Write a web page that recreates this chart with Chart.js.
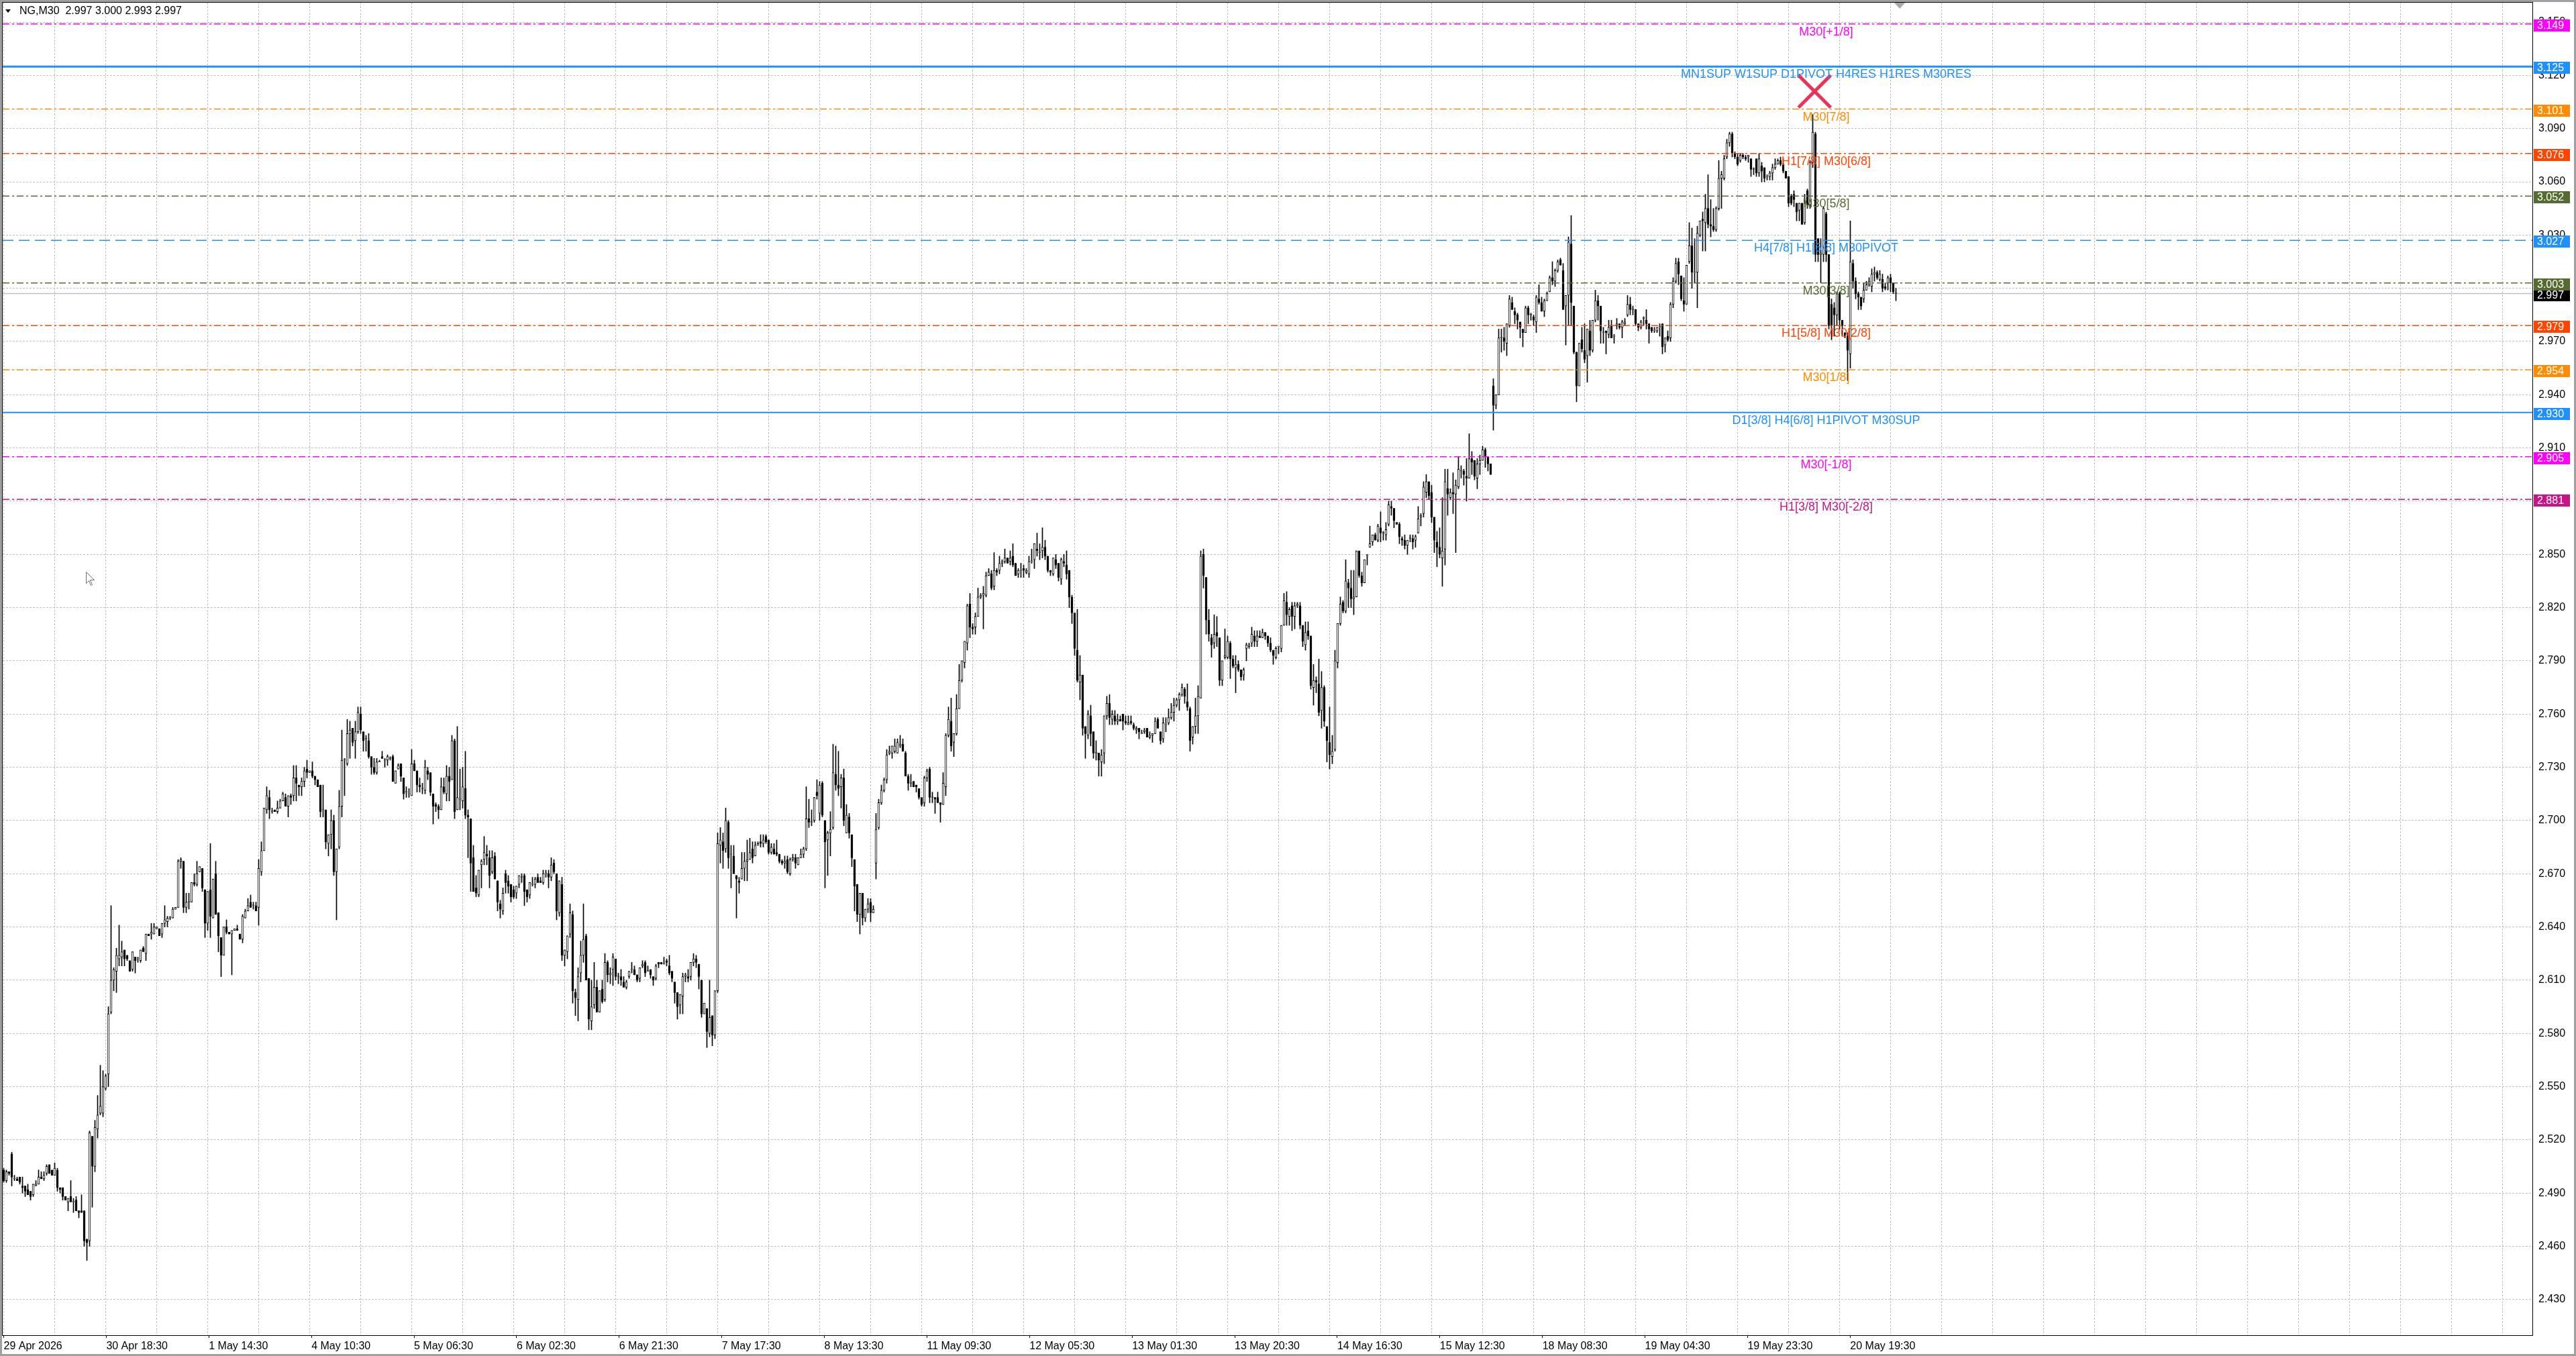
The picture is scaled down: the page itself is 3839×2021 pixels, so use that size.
<!DOCTYPE html>
<html>
<head>
<meta charset="utf-8">
<title>NG,M30</title>
<script src="https://cdn.jsdelivr.net/npm/chart.js@4.4.1/dist/chart.umd.min.js"></script>
<style>
  html, body { margin: 0; padding: 0; background: #fff; }
  #wrap { width: 3839px; height: 2021px; position: relative; }
</style>
</head>
<body>
<div id="wrap"><canvas id="chart"></canvas></div>
<script>
// NG M30 candles, oldest first
const opens = [
  2.503,2.497,2.502,2.512,2.498,2.498,2.499,2.494,2.494,2.492,2.491,2.489,2.494,2.495,2.499,2.498,2.501,2.506,2.503,2.500,
  2.503,2.493,2.493,2.488,2.485,2.488,2.485,2.486,2.480,2.480,2.480,2.464,2.463,2.522,2.505,2.526,2.535,2.535,2.549,2.557,
  2.592,2.610,2.615,2.622,2.623,2.627,2.624,2.621,2.616,2.623,2.622,2.621,2.628,2.625,2.636,2.636,2.636,2.639,2.639,2.636,
  2.642,2.643,2.645,2.645,2.650,2.651,2.677,2.677,2.651,2.654,2.654,2.665,2.664,2.671,2.673,2.661,2.642,2.661,2.645,2.670,
  2.648,2.634,2.624,2.640,2.637,2.636,2.638,2.639,2.636,
  2.633,2.645,2.649,2.654,2.652,2.652,2.651,2.671,2.683,2.706,2.713,2.705,2.706,2.705,2.707,2.711,2.713,2.708,2.714,2.714,
  2.724,2.720,2.719,2.722,2.729,2.727,2.728,2.725,2.723,2.720,2.706,2.706,2.687,2.692,2.700,2.671,2.685,2.708,2.734,2.732,
  2.749,2.752,2.745,2.750,2.760,2.750,2.746,2.745,2.736,2.730,2.727,2.733,2.736,2.734,2.734,2.735,2.736,2.721,2.729,2.732,
  2.724,2.716,2.715,2.714,2.732,2.728,2.720,2.718,2.717,2.728,2.727,2.715,2.709,2.708,2.706,2.719,2.715,2.725,2.723,2.745,
  2.706,2.712,2.711,2.718,2.703,2.701,2.679,2.662,2.658,2.675,
  2.678,2.681,2.679,2.671,2.680,2.666,2.653,2.649,2.670,2.666,2.664,2.661,2.659,2.664,2.668,2.669,2.661,2.658,2.664,2.664,
  2.668,2.666,2.665,2.670,2.670,2.668,2.676,2.670,2.648,2.664,2.624,2.626,2.636,2.647,2.603,2.599,2.614,2.624,2.635,2.611,
  2.587,2.596,2.606,2.592,2.605,2.599,2.620,2.613,2.616,2.622,2.612,2.612,2.609,2.606,2.612,2.616,2.616,2.613,2.611,2.618,
  2.620,2.615,2.616,2.612,2.611,2.620,2.620,2.619,2.621,2.618,2.615,2.609,2.603,2.596,2.601,2.612,2.612,2.612,2.620,2.622,
  2.619,2.610,2.591,2.594,2.580,2.590,2.579,2.604,2.686,2.688,
  2.684,2.699,2.681,2.680,2.669,2.666,2.667,2.673,2.677,2.678,2.684,2.680,2.686,2.688,2.687,2.691,2.689,2.682,2.684,2.682,
  2.681,2.677,2.676,2.678,2.670,2.678,2.679,2.675,2.679,2.681,2.684,2.701,2.699,2.700,2.716,2.704,2.721,2.700,2.689,2.693,
  2.696,2.726,2.720,2.719,2.724,2.693,2.702,2.692,2.678,2.664,2.647,2.659,2.645,2.650,2.654,2.648,2.676,2.696,2.710,2.717,
  2.723,2.738,2.738,2.739,2.738,2.742,2.743,2.738,2.725,2.721,2.722,2.720,2.718,2.713,2.710,2.724,2.729,2.713,2.713,2.713,
  2.710,2.709,2.719,2.748,2.756,2.744,2.749,2.763,2.779,2.789,
  2.800,2.822,2.809,2.809,2.815,2.826,2.827,2.827,2.838,2.839,2.832,2.841,2.841,2.845,2.846,2.848,2.846,2.849,2.845,2.839,
  2.841,2.842,2.840,2.839,2.846,2.847,2.853,2.851,2.852,2.854,2.849,2.841,2.839,2.847,2.845,2.836,2.846,2.844,2.841,2.826,
  2.817,2.796,2.778,2.782,2.753,2.748,2.759,2.750,2.738,2.738,2.733,2.738,2.759,2.766,2.757,2.759,2.756,2.757,2.760,2.756,
  2.754,2.756,2.754,2.751,2.752,2.749,2.750,2.752,2.747,2.748,2.749,2.757,2.750,2.746,2.754,2.755,2.758,2.761,2.765,2.768,
  2.771,2.774,2.767,2.763,2.747,2.753,2.759,2.769,2.850,2.837,
  2.813,2.803,2.800,2.806,2.803,2.779,2.792,2.792,2.800,2.791,2.786,2.788,2.785,2.782,2.797,2.798,2.800,2.804,2.801,2.804,
  2.803,2.806,2.804,2.800,2.796,2.792,2.798,2.797,2.810,2.823,2.815,2.821,2.815,2.821,2.821,2.810,2.799,2.807,2.804,2.775,
  2.779,2.777,2.762,2.775,2.753,2.744,2.736,2.740,2.789,2.811,2.823,2.818,2.834,2.831,2.825,2.826,2.852,2.838,2.834,2.849,
  2.854,2.857,2.861,2.858,2.865,2.862,2.861,2.867,2.877,2.876,2.868,2.867,2.859,2.858,2.855,2.859,2.859,2.858,2.862,2.871,
  2.873,2.885,2.891,2.885,2.871,2.857,2.854,2.848,2.853,2.887,
  2.882,2.885,2.884,2.888,2.897,2.897,2.894,2.893,2.904,2.903,2.893,2.901,2.903,2.909,2.905,2.901,2.945,2.934,2.940,2.972,
  2.972,2.969,2.979,2.992,2.987,2.985,2.981,2.977,2.975,2.989,2.985,2.984,2.981,2.994,2.992,2.987,2.993,2.998,3.006,3.004,
  3.010,3.016,3.010,2.990,2.996,3.025,2.990,2.964,2.945,2.971,2.965,2.962,2.976,2.965,2.982,2.993,2.990,2.975,2.976,2.974,
  2.979,2.973,2.979,2.980,2.978,2.980,2.985,2.991,2.988,2.988,2.980,2.978,2.983,2.982,2.980,2.978,2.976,2.976,2.978,2.980,
  2.968,2.973,2.972,2.991,3.004,3.015,3.007,2.993,2.991,3.015,
  3.024,3.009,3.009,3.030,3.039,3.037,3.045,3.036,3.035,3.033,3.045,3.062,3.062,3.074,3.082,3.087,3.076,3.074,3.072,3.075,
  3.074,3.074,3.073,3.067,3.073,3.065,3.069,3.068,3.063,3.063,3.065,3.068,3.070,3.072,3.070,3.066,3.063,3.052,3.053,3.048,
  3.044,3.048,3.037,3.055,3.047,3.071,3.087,3.028,3.019,3.019,3.042,3.019,2.991,2.989,2.985,2.997,2.982,2.975,2.973,2.963,
  3.014,3.004,2.997,2.995,2.994,2.999,3.002,3.001,3.008,3.009,3.005,3.005,3.001,3.003,3.006,3.003,2.997
];
const highs = [
  2.504,2.503,2.502,2.513,2.500,2.499,2.499,2.499,2.494,2.495,2.491,2.495,2.497,2.503,2.502,2.502,2.506,2.506,2.503,2.507,
  2.504,2.493,2.493,2.488,2.487,2.497,2.487,2.488,2.480,2.489,2.480,2.464,2.525,2.522,2.531,2.545,2.562,2.559,2.557,2.595,
  2.652,2.617,2.628,2.641,2.632,2.627,2.624,2.621,2.626,2.623,2.623,2.627,2.629,2.636,2.636,2.642,2.642,2.640,2.639,2.642,
  2.652,2.646,2.646,2.651,2.651,2.678,2.679,2.677,2.659,2.659,2.665,2.670,2.677,2.674,2.673,2.661,2.660,2.687,2.667,2.677,
  2.648,2.634,2.640,2.644,2.637,2.638,2.639,2.641,2.636,
  2.647,2.650,2.656,2.658,2.654,2.654,2.678,2.688,2.707,2.719,2.717,2.707,2.706,2.711,2.712,2.716,2.715,2.714,2.715,2.731,
  2.731,2.720,2.724,2.730,2.734,2.728,2.733,2.725,2.723,2.720,2.720,2.706,2.692,2.706,2.703,2.684,2.717,2.751,2.735,2.757,
  2.756,2.752,2.756,2.764,2.764,2.750,2.748,2.749,2.736,2.735,2.735,2.734,2.739,2.735,2.737,2.736,2.737,2.728,2.732,2.732,
  2.724,2.719,2.718,2.740,2.734,2.728,2.724,2.721,2.734,2.730,2.727,2.715,2.710,2.709,2.724,2.724,2.731,2.730,2.748,2.746,
  2.753,2.729,2.730,2.739,2.706,2.701,2.686,2.669,2.672,2.678,
  2.691,2.686,2.683,2.683,2.682,2.666,2.655,2.662,2.672,2.669,2.664,2.663,2.663,2.669,2.670,2.670,2.661,2.665,2.668,2.668,
  2.670,2.668,2.672,2.672,2.672,2.679,2.678,2.670,2.666,2.668,2.627,2.635,2.653,2.649,2.605,2.617,2.632,2.653,2.636,2.611,
  2.610,2.620,2.610,2.604,2.610,2.625,2.621,2.617,2.625,2.622,2.614,2.616,2.612,2.610,2.615,2.620,2.618,2.613,2.617,2.621,
  2.621,2.618,2.616,2.612,2.619,2.620,2.620,2.623,2.622,2.624,2.615,2.609,2.603,2.602,2.614,2.614,2.616,2.620,2.625,2.624,
  2.619,2.610,2.597,2.594,2.610,2.590,2.604,2.693,2.696,2.693,
  2.707,2.700,2.686,2.686,2.669,2.668,2.682,2.682,2.689,2.690,2.688,2.688,2.688,2.692,2.692,2.692,2.689,2.687,2.687,2.689,
  2.681,2.678,2.680,2.680,2.679,2.681,2.681,2.679,2.684,2.685,2.719,2.712,2.706,2.713,2.723,2.722,2.722,2.700,2.694,2.705,
  2.743,2.742,2.739,2.726,2.729,2.709,2.704,2.692,2.678,2.664,2.659,2.659,2.650,2.656,2.656,2.652,2.704,2.712,2.720,2.724,
  2.740,2.742,2.742,2.746,2.746,2.748,2.746,2.739,2.726,2.726,2.722,2.720,2.718,2.713,2.725,2.729,2.730,2.716,2.713,2.716,
  2.710,2.727,2.749,2.764,2.769,2.749,2.771,2.788,2.790,2.801,
  2.822,2.828,2.811,2.817,2.831,2.828,2.832,2.840,2.842,2.841,2.851,2.842,2.849,2.847,2.853,2.848,2.852,2.856,2.845,2.842,
  2.845,2.844,2.842,2.849,2.853,2.856,2.862,2.856,2.865,2.858,2.849,2.841,2.848,2.850,2.845,2.848,2.850,2.852,2.841,2.827,
  2.817,2.819,2.793,2.782,2.753,2.762,2.765,2.750,2.745,2.738,2.740,2.759,2.770,2.771,2.762,2.762,2.760,2.759,2.760,2.759,
  2.759,2.759,2.755,2.753,2.752,2.751,2.752,2.752,2.750,2.749,2.758,2.758,2.750,2.758,2.758,2.763,2.766,2.769,2.769,2.772,
  2.777,2.775,2.777,2.764,2.753,2.769,2.776,2.852,2.853,2.837,
  2.819,2.805,2.816,2.815,2.803,2.790,2.808,2.804,2.801,2.793,2.793,2.790,2.785,2.786,2.800,2.800,2.809,2.807,2.807,2.807,
  2.808,2.806,2.804,2.803,2.796,2.798,2.798,2.810,2.828,2.829,2.820,2.823,2.823,2.823,2.823,2.810,2.812,2.812,2.804,2.788,
  2.781,2.791,2.784,2.776,2.753,2.764,2.748,2.796,2.811,2.826,2.824,2.847,2.836,2.841,2.841,2.852,2.852,2.840,2.847,2.850,
  2.866,2.861,2.862,2.867,2.874,2.863,2.868,2.880,2.880,2.876,2.868,2.868,2.860,2.861,2.858,2.861,2.861,2.861,2.877,2.873,
  2.891,2.895,2.891,2.889,2.871,2.863,2.865,2.882,2.898,2.898,
  2.887,2.896,2.892,2.905,2.900,2.898,2.904,2.918,2.908,2.903,2.904,2.906,2.911,2.910,2.905,2.901,2.949,2.940,2.977,2.977,
  2.978,2.980,2.996,2.995,2.989,2.986,2.981,2.977,2.990,2.990,2.986,2.985,2.996,3.002,2.995,2.994,2.998,3.007,3.015,3.011,
  3.016,3.017,3.014,2.996,3.029,3.041,2.990,2.964,2.969,2.978,2.980,2.977,2.982,2.982,2.999,2.996,2.990,2.978,2.976,2.982,
  2.982,2.974,2.983,2.980,2.982,2.983,2.996,2.995,2.990,2.988,2.980,2.982,2.984,2.988,2.980,2.978,2.978,2.978,2.980,2.980,
  2.972,2.976,2.992,3.006,3.017,3.017,3.007,3.006,3.013,3.037,
  3.034,3.028,3.035,3.038,3.043,3.053,3.064,3.050,3.045,3.046,3.072,3.066,3.075,3.084,3.088,3.088,3.077,3.076,3.076,3.076,
  3.075,3.075,3.073,3.068,3.073,3.076,3.071,3.068,3.064,3.066,3.070,3.073,3.073,3.074,3.073,3.066,3.063,3.053,3.055,3.048,
  3.048,3.048,3.053,3.056,3.072,3.098,3.088,3.028,3.028,3.046,3.043,3.019,2.994,2.992,2.998,2.998,2.982,2.975,2.975,3.038,
  3.016,3.006,2.998,2.995,3.003,3.004,3.006,3.011,3.012,3.010,3.010,3.008,3.003,3.007,3.008,3.003,3.000
];
const lows = [
  2.496,2.496,2.500,2.494,2.497,2.497,2.495,2.490,2.488,2.489,2.486,2.488,2.494,2.495,2.498,2.497,2.500,2.501,2.500,2.500,
  2.491,2.490,2.486,2.486,2.480,2.485,2.479,2.480,2.476,2.479,2.460,2.452,2.460,2.482,2.502,2.521,2.534,2.533,2.548,2.550,
  2.591,2.604,2.603,2.618,2.618,2.618,2.621,2.615,2.615,2.614,2.620,2.620,2.626,2.621,2.635,2.633,2.636,2.639,2.635,2.634,
  2.640,2.640,2.644,2.645,2.650,2.651,2.673,2.648,2.648,2.650,2.654,2.663,2.663,2.671,2.660,2.634,2.638,2.634,2.645,2.647,
  2.626,2.612,2.624,2.636,2.636,2.613,2.638,2.638,2.633,
  2.631,2.645,2.649,2.651,2.650,2.649,2.641,2.669,2.683,2.704,2.701,2.704,2.705,2.704,2.707,2.711,2.708,2.702,2.709,2.711,
  2.711,2.714,2.714,2.719,2.724,2.727,2.724,2.720,2.719,2.702,2.702,2.684,2.680,2.684,2.669,2.644,2.684,2.702,2.714,2.731,
  2.735,2.742,2.735,2.749,2.749,2.739,2.739,2.735,2.726,2.726,2.726,2.733,2.735,2.730,2.731,2.734,2.722,2.721,2.729,2.722,
  2.712,2.713,2.713,2.714,2.728,2.716,2.716,2.715,2.715,2.723,2.714,2.698,2.705,2.701,2.706,2.715,2.711,2.711,2.723,2.701,
  2.706,2.706,2.707,2.701,2.679,2.660,2.660,2.657,2.657,2.662,
  2.675,2.675,2.662,2.670,2.667,2.649,2.645,2.647,2.659,2.659,2.654,2.656,2.656,2.662,2.665,2.652,2.654,2.656,2.663,2.662,
  2.665,2.665,2.664,2.668,2.662,2.666,2.670,2.644,2.646,2.621,2.618,2.622,2.634,2.597,2.590,2.587,2.609,2.620,2.610,2.582,
  2.582,2.594,2.592,2.592,2.597,2.598,2.609,2.608,2.607,2.610,2.608,2.607,2.606,2.605,2.611,2.614,2.613,2.609,2.609,2.617,
  2.612,2.615,2.611,2.607,2.610,2.617,2.619,2.619,2.618,2.613,2.609,2.597,2.588,2.591,2.591,2.609,2.609,2.610,2.618,2.617,
  2.605,2.589,2.591,2.572,2.578,2.573,2.577,2.603,2.676,2.673,
  2.682,2.673,2.662,2.670,2.645,2.659,2.667,2.666,2.666,2.678,2.676,2.680,2.686,2.685,2.685,2.687,2.681,2.681,2.681,2.680,
  2.676,2.675,2.673,2.670,2.669,2.677,2.673,2.675,2.679,2.679,2.683,2.696,2.697,2.699,2.712,2.700,2.702,2.662,2.669,2.680,
  2.695,2.717,2.714,2.707,2.697,2.693,2.690,2.674,2.649,2.643,2.636,2.641,2.643,2.648,2.643,2.648,2.667,2.695,2.709,2.716,
  2.721,2.737,2.735,2.738,2.738,2.741,2.739,2.725,2.717,2.719,2.719,2.716,2.712,2.708,2.708,2.722,2.710,2.710,2.704,2.710,
  2.699,2.709,2.714,2.747,2.739,2.736,2.748,2.763,2.778,2.786,
  2.796,2.803,2.805,2.805,2.815,2.825,2.808,2.826,2.838,2.830,2.830,2.838,2.839,2.843,2.845,2.845,2.844,2.843,2.838,2.837,
  2.837,2.837,2.839,2.837,2.845,2.842,2.849,2.847,2.848,2.847,2.840,2.838,2.838,2.842,2.835,2.833,2.843,2.836,2.820,2.811,
  2.793,2.778,2.768,2.748,2.735,2.746,2.742,2.735,2.734,2.725,2.725,2.732,2.757,2.754,2.754,2.754,2.754,2.756,2.751,2.754,
  2.754,2.754,2.751,2.749,2.746,2.749,2.749,2.747,2.746,2.744,2.749,2.752,2.743,2.744,2.750,2.754,2.757,2.756,2.764,2.762,
  2.770,2.766,2.762,2.739,2.743,2.749,2.749,2.769,2.831,2.805,
  2.801,2.792,2.797,2.798,2.776,2.776,2.791,2.791,2.780,2.786,2.772,2.784,2.779,2.779,2.790,2.797,2.798,2.798,2.798,2.803,
  2.803,2.802,2.798,2.795,2.788,2.791,2.794,2.795,2.810,2.810,2.810,2.807,2.808,2.820,2.808,2.798,2.796,2.802,2.774,2.765,
  2.772,2.759,2.752,2.753,2.733,2.729,2.732,2.739,2.786,2.810,2.817,2.817,2.820,2.820,2.816,2.826,2.837,2.832,2.834,2.844,
  2.854,2.855,2.858,2.857,2.857,2.858,2.858,2.866,2.872,2.865,2.867,2.856,2.855,2.853,2.850,2.857,2.853,2.854,2.862,2.866,
  2.871,2.882,2.881,2.868,2.851,2.843,2.848,2.832,2.844,2.872,
  2.881,2.873,2.851,2.887,2.893,2.889,2.880,2.893,2.895,2.892,2.887,2.895,2.903,2.899,2.897,2.895,2.920,2.932,2.940,2.964,
  2.965,2.962,2.978,2.988,2.980,2.977,2.972,2.967,2.975,2.980,2.982,2.979,2.975,2.991,2.987,2.984,2.993,2.998,3.002,3.001,
  3.009,3.013,2.988,2.968,2.979,2.979,2.963,2.936,2.945,2.964,2.958,2.947,2.962,2.964,2.981,2.982,2.969,2.969,2.963,2.972,
  2.972,2.969,2.977,2.977,2.972,2.979,2.984,2.985,2.985,2.979,2.976,2.977,2.979,2.977,2.969,2.975,2.975,2.975,2.973,2.963,
  2.964,2.970,2.970,2.989,3.003,3.002,2.993,2.987,2.991,3.014,
  3.000,3.003,2.989,3.029,3.021,3.021,3.034,3.029,3.032,3.032,3.044,3.045,3.061,3.073,3.080,3.074,3.073,3.069,3.071,3.073,
  3.072,3.071,3.063,3.064,3.063,3.063,3.060,3.060,3.061,3.061,3.061,3.067,3.070,3.069,3.065,3.062,3.046,3.047,3.046,3.038,
  3.038,3.036,3.036,3.045,3.045,3.068,3.015,3.015,3.003,3.015,3.015,2.977,2.971,2.973,2.979,2.977,2.973,2.972,2.948,2.955,
  3.000,2.994,2.988,2.988,2.992,2.999,3.001,2.998,3.004,3.005,3.004,2.998,2.999,2.999,2.998,2.997,2.993
];
const closes = [
  2.497,2.502,2.501,2.499,2.498,2.497,2.496,2.493,2.491,2.489,2.488,2.495,2.495,2.499,2.498,2.500,2.505,2.501,2.500,2.504,
  2.493,2.492,2.488,2.486,2.487,2.485,2.485,2.480,2.479,2.479,2.463,2.462,2.524,2.505,2.527,2.534,2.539,2.550,2.556,2.591,
  2.610,2.616,2.624,2.624,2.626,2.622,2.622,2.615,2.626,2.621,2.622,2.627,2.626,2.636,2.635,2.637,2.640,2.640,2.635,2.642,
  2.644,2.645,2.645,2.650,2.651,2.677,2.678,2.651,2.654,2.654,2.665,2.664,2.670,2.674,2.662,2.642,2.660,2.646,2.667,2.647,
  2.635,2.624,2.640,2.637,2.636,2.638,2.639,2.638,2.633,
  2.646,2.649,2.652,2.651,2.652,2.649,2.673,2.683,2.707,2.714,2.706,2.705,2.705,2.707,2.711,2.715,2.708,2.714,2.713,2.724,
  2.721,2.719,2.722,2.728,2.727,2.728,2.725,2.723,2.719,2.705,2.706,2.688,2.692,2.700,2.671,2.684,2.708,2.734,2.734,2.749,
  2.751,2.744,2.750,2.761,2.751,2.745,2.746,2.736,2.730,2.727,2.733,2.733,2.735,2.734,2.736,2.735,2.722,2.728,2.731,2.725,
  2.715,2.716,2.715,2.732,2.728,2.720,2.719,2.718,2.730,2.726,2.716,2.708,2.708,2.706,2.719,2.716,2.725,2.722,2.745,2.705,
  2.713,2.712,2.719,2.703,2.702,2.676,2.660,2.659,2.672,2.677,
  2.682,2.680,2.669,2.679,2.667,2.654,2.650,2.659,2.665,2.663,2.657,2.657,2.663,2.669,2.668,2.660,2.657,2.665,2.664,2.667,
  2.665,2.665,2.670,2.670,2.668,2.675,2.671,2.649,2.666,2.624,2.627,2.635,2.648,2.604,2.600,2.612,2.624,2.633,2.610,2.588,
  2.595,2.606,2.592,2.604,2.598,2.620,2.613,2.614,2.623,2.612,2.612,2.610,2.606,2.609,2.615,2.616,2.613,2.610,2.617,2.619,
  2.614,2.615,2.613,2.610,2.618,2.619,2.619,2.619,2.620,2.614,2.611,2.603,2.595,2.602,2.612,2.613,2.611,2.620,2.622,2.620,
  2.612,2.591,2.597,2.581,2.589,2.579,2.604,2.687,2.689,2.683,
  2.700,2.679,2.681,2.670,2.667,2.665,2.673,2.677,2.678,2.682,2.679,2.686,2.687,2.687,2.689,2.688,2.682,2.685,2.681,2.681,
  2.677,2.676,2.677,2.671,2.678,2.679,2.676,2.679,2.681,2.684,2.701,2.699,2.699,2.713,2.714,2.720,2.703,2.688,2.693,2.695,
  2.727,2.720,2.718,2.724,2.700,2.703,2.693,2.679,2.663,2.647,2.659,2.645,2.650,2.653,2.648,2.650,2.695,2.710,2.717,2.723,
  2.737,2.739,2.742,2.742,2.744,2.743,2.739,2.725,2.721,2.721,2.719,2.719,2.713,2.709,2.724,2.728,2.713,2.713,2.712,2.710,
  2.709,2.721,2.748,2.757,2.742,2.749,2.763,2.779,2.790,2.801,
  2.821,2.809,2.808,2.815,2.826,2.827,2.828,2.838,2.840,2.831,2.841,2.840,2.845,2.846,2.848,2.845,2.848,2.844,2.838,2.841,
  2.841,2.841,2.841,2.846,2.846,2.856,2.852,2.851,2.854,2.849,2.841,2.840,2.848,2.844,2.837,2.847,2.845,2.839,2.826,2.817,
  2.797,2.779,2.782,2.752,2.749,2.760,2.749,2.738,2.738,2.734,2.737,2.759,2.766,2.758,2.760,2.756,2.757,2.756,2.756,2.755,
  2.755,2.755,2.752,2.752,2.750,2.749,2.751,2.747,2.748,2.749,2.756,2.752,2.745,2.755,2.754,2.758,2.761,2.765,2.768,2.771,
  2.775,2.770,2.764,2.745,2.753,2.759,2.770,2.849,2.838,2.813,
  2.805,2.799,2.805,2.804,2.779,2.790,2.793,2.801,2.791,2.787,2.788,2.785,2.781,2.785,2.799,2.799,2.805,2.801,2.804,2.803,
  2.806,2.804,2.800,2.796,2.793,2.797,2.798,2.810,2.824,2.816,2.819,2.815,2.821,2.822,2.810,2.801,2.806,2.804,2.776,2.779,
  2.778,2.761,2.775,2.756,2.745,2.737,2.739,2.790,2.811,2.822,2.818,2.835,2.831,2.825,2.826,2.852,2.838,2.834,2.847,2.849,
  2.856,2.861,2.858,2.866,2.862,2.862,2.864,2.878,2.876,2.869,2.867,2.860,2.858,2.855,2.858,2.859,2.857,2.860,2.870,2.872,
  2.888,2.891,2.883,2.871,2.858,2.854,2.850,2.852,2.891,2.884,
  2.885,2.884,2.889,2.898,2.897,2.895,2.893,2.904,2.902,2.894,2.901,2.903,2.909,2.905,2.901,2.895,2.934,2.940,2.972,2.972,
  2.970,2.980,2.994,2.988,2.985,2.982,2.978,2.975,2.989,2.985,2.985,2.982,2.995,2.992,2.987,2.993,2.997,3.006,3.004,3.010,
  3.015,3.013,2.988,2.996,3.026,2.992,2.964,2.945,2.969,2.966,2.960,2.977,2.965,2.982,2.993,2.990,2.976,2.975,2.975,2.978,
  2.972,2.973,2.980,2.978,2.981,2.981,2.991,2.988,2.988,2.980,2.978,2.981,2.983,2.980,2.977,2.976,2.976,2.978,2.978,2.967,
  2.972,2.971,2.991,3.004,3.014,3.008,2.994,2.991,3.013,3.024,
  3.009,3.009,3.031,3.038,3.038,3.045,3.036,3.035,3.033,3.045,3.062,3.064,3.073,3.082,3.087,3.076,3.074,3.070,3.075,3.074,
  3.073,3.075,3.067,3.067,3.065,3.073,3.066,3.062,3.063,3.065,3.068,3.070,3.072,3.070,3.066,3.062,3.048,3.048,3.050,3.043,
  3.048,3.036,3.048,3.047,3.071,3.088,3.019,3.019,3.020,3.045,3.019,2.979,2.979,2.985,2.997,2.982,2.979,2.973,2.965,3.015,
  3.004,2.997,2.995,2.990,2.999,3.002,3.004,3.008,3.009,3.006,3.008,3.000,3.000,3.006,3.003,2.998,2.997
];

const symbolTitle = 'NG,M30';
// time axis labels, one every 40 bars of M30
const timeLabels = [
  '29 Apr 2026', '30 Apr 18:30', '1 May 14:30', '4 May 10:30', '5 May 06:30', '6 May 02:30',
  '6 May 21:30', '7 May 17:30', '8 May 13:30', '11 May 09:30', '12 May 05:30', '13 May 01:30',
  '13 May 20:30', '14 May 16:30', '15 May 12:30', '18 May 08:30', '19 May 04:30', '19 May 23:30',
  '20 May 19:30'
];
const labelSpacing = 38.22;   // candle slots between two time labels
const gridSpacing = 19;       // candle slots between two vertical grid lines
const yTickValues = [
  2.430, 2.460, 2.490, 2.520, 2.550, 2.580, 2.610, 2.640, 2.670, 2.700, 2.730, 2.760, 2.790,
  2.820, 2.850, 2.880, 2.910, 2.940, 2.970, 3.000, 3.030, 3.060, 3.090, 3.120, 3.150
];

// horizontal levels drawn by the indicator
const levelValues = [3.149, 3.125, 3.101, 3.076, 3.052, 3.027, 3.003, 2.979, 2.954, 2.930, 2.905, 2.881];
const levelNames = [
  'M30[+1/8]',
  'MN1SUP W1SUP D1PIVOT H4RES H1RES M30RES',
  'M30[7/8]',
  'H1[7/8] M30[6/8]',
  'M30[5/8]',
  'H4[7/8] H1[6/8] M30PIVOT',
  'M30[3/8]',
  'H1[5/8] M30[2/8]',
  'M30[1/8]',
  'D1[3/8] H4[6/8] H1PIVOT M30SUP',
  'M30[-1/8]',
  'H1[3/8] M30[-2/8]'
];
// the red cross above the spike
const markSlot = 674.7;
const markPrice = 3.111;

// --- styles ---
const MAGENTA = '#ff00ff', BLUE = '#1e90ff', DORANGE = '#ff8c00', ORED = '#ff4500',
      OLIVE = '#556b2f', MVRED = '#c71585';
const DASHDOT = [10, 4, 3, 4];
const levelStyles = [
  { color: MAGENTA, dash: DASHDOT, width: 1.5 },
  { color: BLUE,    dash: [],      width: 3 },
  { color: DORANGE, dash: DASHDOT, width: 1.5 },
  { color: ORED,    dash: DASHDOT, width: 1.5 },
  { color: OLIVE,   dash: DASHDOT, width: 1.5 },
  { color: BLUE,    dash: [16, 8], width: 1.5 },
  { color: OLIVE,   dash: DASHDOT, width: 1.5 },
  { color: ORED,    dash: DASHDOT, width: 1.5 },
  { color: DORANGE, dash: DASHDOT, width: 1.5 },
  { color: BLUE,    dash: [],      width: 2 },
  { color: MAGENTA, dash: DASHDOT, width: 1.5 },
  { color: MVRED,   dash: DASHDOT, width: 1.5 }
];
const FONT = '"Liberation Sans", Arial, sans-serif';
const X_MIN = -0.375, X_MAX = 942.125;
const Y_MIN = 2.40986, Y_MAX = 3.16099;
const labelSlot = 679;

Chart.defaults.font.family = FONT;
Chart.defaults.font.size = 16;
Chart.defaults.color = '#000';

const n = Math.min(opens.length, highs.length, lows.length, closes.length);
const idx = Array.from({ length: n }, (_, i) => i);
const lastClose = closes[n - 1];

const wickData = idx.map(i => ({ x: i, y: [lows[i], highs[i]] }));
const bodyData = idx.map(i => ({ x: i, y: [Math.min(opens[i], closes[i]), Math.max(opens[i], closes[i])] }));
const bodyFill = idx.map(i => closes[i] >= opens[i] ? '#ffffff' : '#000000');

const levelSets = levelValues.map((v, i) => ({
  type: 'line',
  data: [{ x: X_MIN, y: v }, { x: X_MAX, y: v }],
  borderColor: levelStyles[i].color,
  borderWidth: levelStyles[i].width,
  borderDash: levelStyles[i].dash,
  pointRadius: 0,
  order: 0
}));

// x ticks: first the grid lines, then the labelled time ticks
const gridSlots = [];
for (let s = 0; s <= X_MAX; s += gridSpacing) gridSlots.push(s);
const labelSlots = timeLabels.map((_, k) => k * labelSpacing);
const nGrid = gridSlots.length;
const xTicks = gridSlots.concat(labelSlots);

const overlay = {
  id: 'overlay',
  afterDatasetsDraw(chart) {
    const { ctx, scales: { x, y } } = chart;
    ctx.save();
    ctx.font = '18px ' + FONT;
    ctx.textAlign = 'center';
    ctx.textBaseline = 'top';
    const cx = x.getPixelForValue(labelSlot);
    levelValues.forEach((v, i) => {
      ctx.fillStyle = levelStyles[i].color;
      ctx.fillText(levelNames[i], cx, y.getPixelForValue(v) + 3);
    });
    ctx.restore();
  },
  afterDraw(chart) {
    const { ctx, chartArea: a, scales: { x, y } } = chart;
    ctx.save();
    // plot frame
    ctx.strokeStyle = '#000';
    ctx.lineWidth = 1;
    ctx.strokeRect(a.left - 0.5, a.top - 0.5, a.right - a.left + 1, a.bottom - a.top + 1);
    // window frame
    ctx.strokeStyle = '#a0a0a0';
    ctx.lineWidth = 3;
    ctx.strokeRect(1.5, 1.5, chart.width - 3, chart.height - 3);

    // price boxes on the right scale
    ctx.font = '16px ' + FONT;
    ctx.textAlign = 'left';
    ctx.textBaseline = 'middle';
    const box = (v, bg) => {
      const py = Math.round(y.getPixelForValue(v)) + 2;
      ctx.fillStyle = bg;
      ctx.fillRect(a.right + 2, py - 9, 54, 18);
      ctx.fillStyle = '#fff';
      ctx.fillText(v.toFixed(3), a.right + 7, py + 1);
    };
    box(lastClose, '#000');
    levelValues.forEach((v, i) => box(v, levelStyles[i].color));

    // header: symbol and last bar OHLC
    ctx.fillStyle = '#000';
    ctx.beginPath();
    ctx.moveTo(8, 14); ctx.lineTo(16, 14); ctx.lineTo(12, 19); ctx.closePath();
    ctx.fill();
    ctx.textBaseline = 'middle';
    const f = v => v.toFixed(3);
    ctx.fillText(symbolTitle + '  ' + f(opens[n - 1]) + ' ' + f(highs[n - 1]) + ' ' + f(lows[n - 1]) + ' ' + f(closes[n - 1]), 29, 17);

    // chart shift marker
    const sx = x.getPixelForValue(n + 0.4);
    ctx.fillStyle = '#a8a8a8';
    ctx.beginPath();
    ctx.moveTo(sx - 8, a.top); ctx.lineTo(sx + 8, a.top); ctx.lineTo(sx, a.top + 9); ctx.closePath();
    ctx.fill();

    // mouse pointer left on the chart
    const px = Math.round(x.getPixelForValue(30.6)) + 0.5, py = Math.round(y.getPixelForValue(2.8403)) + 0.5;
    ctx.beginPath();
    ctx.moveTo(px, py); ctx.lineTo(px, py + 17); ctx.lineTo(px + 4, py + 13); ctx.lineTo(px + 7, py + 20);
    ctx.lineTo(px + 9, py + 19); ctx.lineTo(px + 6, py + 12); ctx.lineTo(px + 12, py + 12); ctx.closePath();
    ctx.fillStyle = '#fff';
    ctx.fill();
    ctx.strokeStyle = '#707070';
    ctx.lineWidth = 1;
    ctx.stroke();
    ctx.restore();
  }
};

new Chart(document.getElementById('chart'), {
  type: 'bar',
  data: {
    datasets: [
      ...levelSets,
      {
        type: 'line',
        data: [{ x: markSlot, y: markPrice }],
        showLine: false,
        pointStyle: 'crossRot',
        pointRadius: 34,
        pointBorderWidth: 5,
        pointBorderColor: 'rgb(232,52,88)',
        order: 0
      },
      {
        type: 'line',
        data: [{ x: X_MIN, y: lastClose }, { x: X_MAX, y: lastClose }],
        borderColor: '#c0c0c0',
        borderWidth: 1.5,
        pointRadius: 0,
        order: 3
      },
      {
        data: bodyData,
        backgroundColor: bodyFill,
        borderColor: '#000',
        borderWidth: 1,
        borderSkipped: false,
        barThickness: 3,
        minBarLength: 1,
        grouped: false,
        order: 1
      },
      {
        data: wickData,
        backgroundColor: '#000',
        borderWidth: 0,
        barThickness: 1,
        minBarLength: 1,
        grouped: false,
        order: 2
      }
    ]
  },
  options: {
    responsive: true,
    maintainAspectRatio: false,
    animation: false,
    events: [],
    layout: { autoPadding: false, padding: { left: 4, top: 4, right: 0, bottom: 0 } },
    plugins: { legend: { display: false }, tooltip: { enabled: false } },
    scales: {
      x: {
        type: 'linear',
        min: X_MIN,
        max: X_MAX,
        offset: false,
        grid: {
          color: c => (c.index < nGrid ? '#c0c0c0' : 'rgba(0,0,0,0)'),
          lineWidth: 1,
          offset: false,
          drawTicks: true,
          tickLength: 4,
          tickWidth: 1,
          tickColor: c => (c.index >= nGrid ? '#000' : 'rgba(0,0,0,0)')
        },
        border: { display: false, dash: [3, 2] },
        ticks: {
          autoSkip: false,
          maxRotation: 0,
          minRotation: 0,
          align: 'start',
          padding: 3,
          color: '#000',
          font: { size: 16 },
          callback: (v, i) => (i >= nGrid ? timeLabels[i - nGrid] : '')
        },
        afterBuildTicks: s => { s.ticks = xTicks.map(v => ({ value: v })); },
        afterFit: s => { s.height = 31; s.paddingLeft = 0; s.paddingRight = 0; }
      },
      y: {
        type: 'linear',
        position: 'right',
        min: Y_MIN,
        max: Y_MAX,
        grid: { color: '#c0c0c0', lineWidth: 1, drawTicks: false },
        border: { display: false, dash: [3, 2] },
        ticks: {
          padding: 9,
          color: '#000',
          font: { size: 16 },
          callback: v => v.toFixed(3)
        },
        afterBuildTicks: s => { s.ticks = yTickValues.map(v => ({ value: v })); },
        afterFit: s => { s.width = 65; s.paddingTop = 0; s.paddingBottom = 0; }
      }
    }
  },
  plugins: [overlay]
});
</script>
</body>
</html>
